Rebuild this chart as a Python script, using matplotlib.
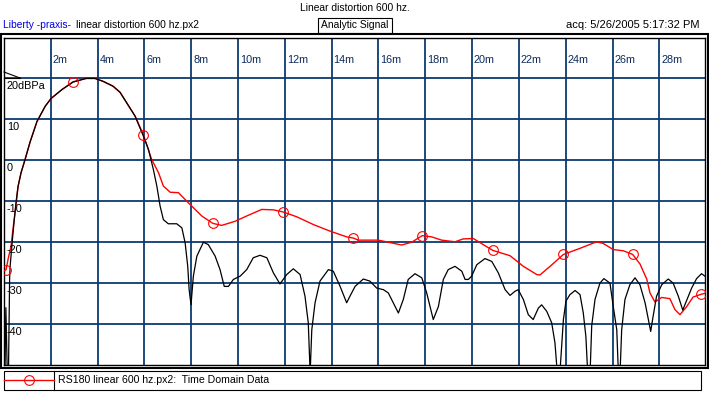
#!/usr/bin/env python3
"""
Liberty praxis time domain plot: linear distortion 600 hz
Analytic signal envelope (red) over time domain data (black), dBPa vs ms
"""

import numpy as np
import matplotlib
matplotlib.use("Agg")
import matplotlib.pyplot as plt
from matplotlib.patches import Rectangle
from matplotlib.lines import Line2D

plt.rcParams['font.family'] = ['Liberation Sans', 'DejaVu Sans']
plt.rcParams['font.size'] = 7.4

# envelope (analytic signal), time in ms, level in dBPa
red_t = [0.0, 0.09, 0.18, 0.30, 0.39, 0.52, 0.60, 0.73, 0.90, 1.11, 1.41, 1.76,
         2.01, 2.48, 2.95, 3.51, 3.89, 4.23, 4.66, 4.96, 5.60, 5.95, 6.31, 6.60,
         6.81, 7.10, 7.45, 7.88, 8.45, 8.92, 9.30, 9.87, 10.37, 11.01, 11.51,
         11.91, 12.51, 13.22, 13.93, 14.64, 14.93, 15.14, 15.99, 16.42, 16.99,
         17.42, 17.87, 18.27, 18.70, 19.27, 19.62, 20.05, 20.48, 20.88, 21.62,
         22.19, 22.76, 22.90, 23.33, 23.90, 24.61, 25.32, 25.60, 26.03, 26.46,
         26.86, 27.17, 27.46, 27.60, 27.81, 28.10, 28.45, 28.67, 28.88, 29.16,
         29.44, 29.80, 29.95]
red_db = [-27.0, -26.7, -24.0, -21.0, -16.5, -10.5, -6.4, -3.0, 0.2, 4.4, 9.5, 13.2,
          15.1, 17.3, 19.2, 20.0, 20.0, 19.3, 18.1, 16.6, 10.8, 6.3, 0.2, -3.0,
          -6.3, -7.8, -7.9, -10.4, -13.6, -15.4, -15.9, -14.9, -13.6, -12.0, -12.1,
          -12.6, -13.8, -15.7, -17.3, -18.7, -19.0, -19.5, -19.5, -20.0, -20.7,
          -20.0, -18.4, -18.7, -19.5, -19.9, -19.2, -19.1, -20.6, -22.0, -23.3,
          -25.9, -27.9, -28.0, -25.9, -23.0, -21.5, -19.9, -20.3, -21.8, -22.1,
          -23.0, -25.3, -29.0, -32.4, -34.6, -33.5, -33.8, -36.5, -37.7, -35.8,
          -33.4, -32.7, -32.5]
marker_t = [0.09, 2.94, 5.95, 8.92, 11.91, 14.93, 17.87, 20.88, 23.90, 26.86, 29.80]

# time domain data
blk_t = [0.0, 0.04, 0.08, 0.14, 0.19, 0.24, 0.26, 0.35, 0.43, 0.52, 0.60, 0.73,
         0.90, 1.11, 1.41, 1.76, 2.01, 2.48, 2.95, 3.51, 3.89, 4.23, 4.66, 4.96,
         5.60, 5.95, 6.17, 6.38, 6.53, 6.67, 6.81, 7.02, 7.38, 7.60, 7.74, 7.85,
         7.91, 7.99, 8.09, 8.24, 8.52, 8.73, 9.02, 9.23, 9.41, 9.59, 9.80, 10.09,
         10.37, 10.65, 10.94, 11.23, 11.51, 11.79, 12.08, 12.36, 12.65, 12.86,
         13.00, 13.08, 13.15, 13.29, 13.50, 13.86, 14.07, 14.36, 14.64, 14.78,
         15.00, 15.35, 15.63, 15.92, 16.21, 16.42, 16.63, 16.85, 17.06, 17.27,
         17.56, 17.85, 18.06, 18.34, 18.56, 18.77, 18.98, 19.27, 19.56, 19.70,
         19.84, 19.98, 20.20, 20.55, 20.84, 21.12, 21.41, 21.62, 21.83, 21.97,
         22.19, 22.40, 22.61, 22.83, 22.97, 23.19, 23.40, 23.54, 23.64, 23.75,
         23.90, 24.01, 24.18, 24.40, 24.61, 24.75, 24.86, 24.94, 25.04, 25.11,
         25.25, 25.46, 25.63, 25.89, 26.03, 26.18, 26.25, 26.32, 26.39, 26.53,
         26.74, 26.96, 27.17, 27.39, 27.53, 27.63, 27.71, 27.88, 28.10, 28.38,
         28.59, 28.81, 29.00, 29.09, 29.38, 29.59, 29.80, 29.95]
blk_db = [-32.0, -52.0, -36.0, -52.0, -52.0, -29.0, -26.0, -20.0, -15.0, -10.0, -6.4, -3.0,
          0.2, 4.4, 9.5, 13.2, 15.1, 17.3, 19.1, 20.0, 20.0, 19.3, 18.1, 16.6,
          10.8, 6.0, 2.7, -2.2, -6.3, -11.2, -14.5, -15.5, -15.5, -16.5, -20.2, -25.9,
          -31.6, -35.3, -28.3, -23.4, -20.0, -20.6, -23.4, -26.7, -30.8, -30.8, -29.1, -28.3,
          -26.7, -23.8, -23.2, -23.8, -27.5, -30.2, -27.9, -26.5, -27.9, -33.2,
          -39.7, -52.0, -41.4, -34.8, -29.5, -26.7, -27.1, -30.8, -34.8, -33.2,
          -30.8, -29.0, -29.5, -31.2, -31.6, -32.4, -34.8, -37.3, -34.0, -29.1,
          -27.7, -28.7, -32.4, -38.9, -35.7, -29.1, -26.7, -25.9, -27.1, -29.1,
          -29.1, -28.3, -25.5, -24.0, -24.7, -27.5, -31.6, -33.0, -32.0, -31.6,
          -34.0, -37.7, -38.9, -36.1, -35.3, -36.9, -39.7, -44.6, -52.0, -52.0,
          -38.9, -34.4, -32.8, -31.8, -32.8, -37.3, -43.0, -52.0, -52.0, -40.4,
          -34.0, -30.0, -28.9, -30.0, -35.7, -41.4, -52.0, -52.0, -41.4, -34.0,
          -30.4, -28.7, -30.4, -34.8, -38.9, -41.8, -38.9, -33.2, -30.4, -29.0,
          -30.0, -33.2, -36.6, -35.3, -31.2, -28.9, -27.7, -28.3]

x_ticks = [2, 4, 6, 8, 10, 12, 14, 16, 18, 20, 22, 24, 26, 28]
x_labels = [f"{t}m" for t in x_ticks]
y_ticks = [20, 10, 0, -10, -20, -30, -40]
y_labels = ["20dBPa", "10", "0", "-10", "-20", "-30", "-40"]

W, H = 709, 395
GRID = '#0b3a6e'


def fx(px):
    return px / W


def fy(py):
    return 1 - py / H


fig = plt.figure(figsize=(W / 100, H / 100), dpi=100)
fig.patch.set_facecolor('white')

# header texts
fig.text(fx(355), fy(8), "Linear distortion 600 hz.", ha='center', va='center')
fig.text(fx(3), fy(25), "Liberty -praxis-", color='#0000e0', ha='left', va='center')
fig.text(fx(76), fy(25), "linear distortion 600 hz.px2", ha='left', va='center')
fig.text(fx(355), fy(25), "Analytic Signal", ha='center', va='center')
fig.add_artist(Rectangle((fx(317.5), fy(32.5)), fx(74), 14.5 / H, fill=False,
                         edgecolor='black', lw=0.8, transform=fig.transFigure))
fig.text(fx(700), fy(25), "acq: 5/26/2005 5:17:32 PM", ha='right', va='center',
         fontsize=8)

# outer frame
fig.add_artist(Rectangle((fx(1), fy(367.5)), fx(706.5), 333.5 / H, fill=False,
                         edgecolor='black', lw=1.5, transform=fig.transFigure))

ax = fig.add_axes([fx(4), fy(365), fx(701), 327.5 / H])
ax.set_xlim(0, 29.95)
ax.set_ylim(-50, 30)
ax.set_xticks(x_ticks)
ax.set_yticks(y_ticks)
ax.grid(True, color=GRID, lw=1.3)
ax.set_axisbelow(True)
ax.tick_params(length=0, labelbottom=False, labelleft=False)
for s in ax.spines.values():
    s.set_linewidth(1.0)
    s.set_color('black')

ax.plot(red_t, red_db, color='#ff0000', lw=1.0, zorder=3)
ax.plot(blk_t, blk_db, color='black', lw=0.9, zorder=4)
marker_db = np.interp(marker_t, red_t, red_db)
ax.plot(marker_t, marker_db, ls='none', marker='o', ms=7, mfc='none',
        mec='#ff0000', mew=0.8, zorder=5)

for t, lbl in zip(x_ticks, x_labels):
    ax.annotate(lbl, xy=(t, 1), xycoords=('data', 'axes fraction'),
                xytext=(1.3, -16.2), textcoords='offset points',
                ha='left', va='center', color='#0b2a5a', fontsize=7.8)
for v, lbl in zip(y_ticks, y_labels):
    ax.annotate(lbl, xy=(0, v), xycoords=('axes fraction', 'data'),
                xytext=(2.0, -5.8), textcoords='offset points',
                ha='left', va='center', fontsize=7.8)

# small reference-level marker at top left
fig.add_artist(Line2D([fx(4), fx(20)], [fy(72), fy(78)], color='black', lw=0.8))
fig.add_artist(Line2D([fx(4), fx(20)], [fy(78), fy(78)], color='black', lw=0.8))

# legend box
fig.add_artist(Rectangle((fx(4), fy(390)), fx(697), 19 / H, fill=False,
                         edgecolor='black', lw=0.8, transform=fig.transFigure))
fig.add_artist(Line2D([fx(54), fx(54)], [fy(390), fy(371)], color='black', lw=0.8))
fig.add_artist(Line2D([fx(4), fx(54)], [fy(380), fy(380)], color='#ff0000', lw=1.0))
fig.add_artist(Line2D([fx(29)], [fy(380)], ls='none', marker='o', ms=7,
                      mfc='none', mec='#ff0000', mew=0.8))
fig.text(fx(58), fy(380), "RS180 linear 600 hz.px2:  Time Domain Data",
         ha='left', va='center', fontsize=7.6)

plt.savefig('out.png', dpi=100)
